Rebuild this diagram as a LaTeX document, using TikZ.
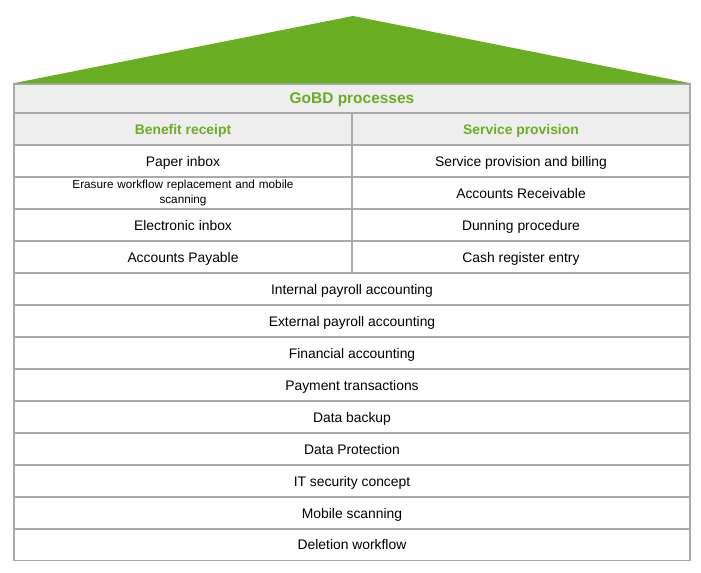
\documentclass[tikz,border=0pt]{standalone}
\usepackage{fontspec}
\setmainfont{Liberation Sans}
\usepackage{xcolor}
\usepackage{tikz}
\usetikzlibrary{calc}
\usetikzlibrary{positioning}
\definecolor{roofgreen}{RGB}{106,174,35}
\definecolor{cellgray}{RGB}{170,170,170}
\definecolor{headfill}{RGB}{238,238,238}
\tikzset{cell/.style = {rectangle, draw=cellgray, line width=1.1pt, inner sep=0, align=center,
  minimum height=24pt, text height=7.6pt, text depth=0pt, font=\fontsize{10.4}{12}\selectfont}}
\tikzstyle{wide} = [cell, minimum width=507pt]
\tikzstyle{half} = [cell, minimum width=253.5pt]
\tikzstyle{head} = [fill=headfill, text=roofgreen, font=\fontsize{10.4}{12}\selectfont\bfseries]

\begin{document}
\begin{tikzpicture}[x=0.75pt, y=-0.75pt]
\useasboundingbox (0,0) rectangle (701,573);
% roof
\node [wide, head, minimum height=21.75pt, text height=8.2pt, font=\fontsize{11.6}{13}\selectfont\bfseries] (gobd) at (352, 98.5) {GoBD processes};
\coordinate (apex) at (353, 16);
\fill [roofgreen] (gobd.north west) -- (apex) -- (gobd.north east) -- cycle;
% two columns
\node [half, head] (benefit) at (183, 129) {Benefit receipt};
\node [half, head] (service) at (521, 129) {Service provision};
\node [half] (paper) at (183, 161) {Paper inbox};
\node [half, font=\fontsize{8.8}{11.2}\selectfont, text width=245pt, text height=, text depth=] (erasure) at (183, 193) {Erasure workflow replacement and mobile\\scanning};
\node [half] (einbox) at (183, 225) {Electronic inbox};
\node [half] (payable) at (183, 257) {Accounts Payable};
\node [half] (billing) at (521, 161) {Service provision and billing};
\node [half] (receivable) at (521, 193) {Accounts Receivable};
\node [half] (dunning) at (521, 225) {Dunning procedure};
\node [half] (cash) at (521, 257) {Cash register entry};
% full rows
\node [wide] (intpay) at (352, 289) {Internal payroll accounting};
\node [wide] (extpay) at (352, 321) {External payroll accounting};
\node [wide] (finacc) at (352, 353) {Financial accounting};
\node [wide] (payment) at (352, 385) {Payment transactions};
\node [wide] (backup) at (352, 417) {Data backup};
\node [wide] (protect) at (352, 449) {Data Protection};
\node [wide] (itsec) at (352, 481) {IT security concept};
\node [wide] (mobile) at (352, 513) {Mobile scanning};
\node [wide] (deletion) at (352, 544.5) {Deletion workflow};
\end{tikzpicture}
\end{document}
